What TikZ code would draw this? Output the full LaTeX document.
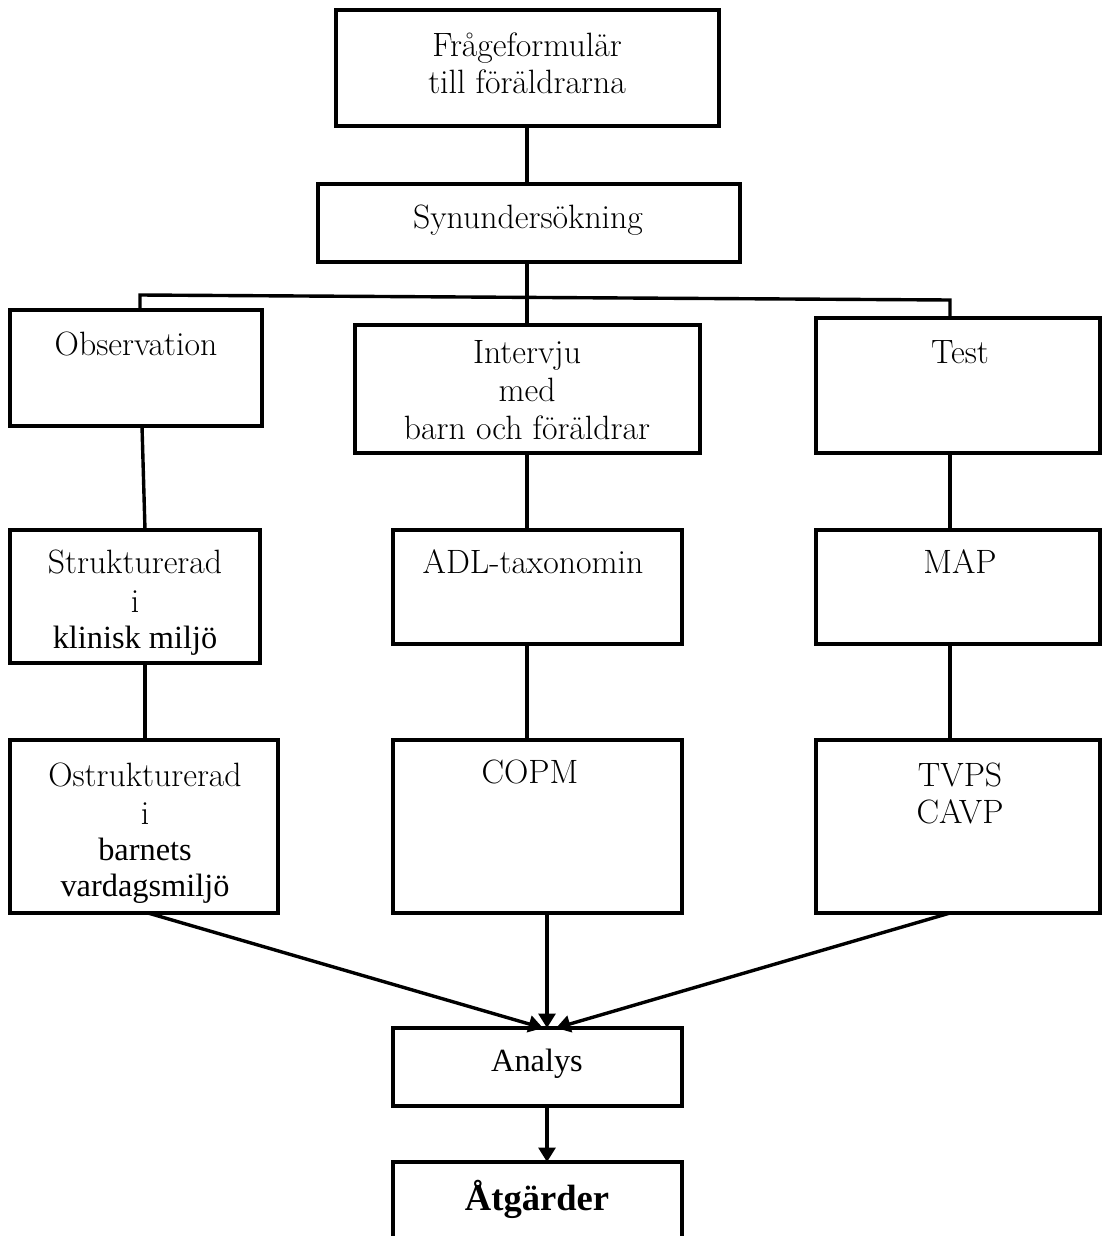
\documentclass[tikz,border=0pt]{standalone}
\usepackage{fontspec}
\usetikzlibrary{arrows.meta,calc}
\newfontfamily\timesf{Liberation Serif}
\newcommand\mkbox[5]{\node[boxs, minimum width={(#4-#2)*0.025cm}, minimum height={(#5-#3)*0.025cm}] (#1) at ({(#2+#4)/2},{(#3+#5)/2}) {};}
\begin{document}
\begin{tikzpicture}[x=0.025cm,y=-0.025cm,
  boxs/.style={draw, line width=0.1cm, inner sep=0pt, outer sep=0pt},
  lm/.style={anchor=base, inner sep=0pt, font=\fontsize{24}{26}\selectfont},
  tm/.style={anchor=base, inner sep=0pt, font=\timesf\fontsize{23}{26}\selectfont},
  conn/.style={line width=0.085cm},
  arr/.style={line width=0.085cm, -{Triangle[length=0.36cm,width=0.42cm]}}]
\useasboundingbox (0,0) rectangle (1105,1236);
\mkbox{frag}{336}{10}{719}{126}
\mkbox{syn}{318}{184}{740}{262}
\mkbox{obs}{10}{310}{262}{426}
\mkbox{int}{355}{325}{700}{453}
\mkbox{test}{816}{318}{1100}{453}
\mkbox{str}{10}{530}{260}{663}
\mkbox{adl}{393}{530}{682}{644}
\mkbox{map}{816}{530}{1100}{644}
\mkbox{ost}{10}{740}{278}{913}
\mkbox{copm}{393}{740}{682}{913}
\mkbox{tvps}{816}{740}{1100}{913}
\mkbox{ana}{393}{1028}{682}{1106}
\mkbox{atg}{393}{1162}{682}{1250}
% texts
\node[lm] (t1) at (527,56) {Frågeformulär};
\node[lm] (t2) at (527,93) {till föräldrarna};
\node[lm] (t3) at (528,228) {Synundersökning};
\node[lm] (t4) at (136,355) {Observation};
\node[lm] (t5) at (527,363) {Intervju};
\node[lm] (t6) at (527,401) {med};
\node[lm] (t7) at (527,439) {barn och föräldrar};
\node[lm] (t8) at (960,363) {Test};
\node[lm] (t9) at (135,573) {Strukturerad};
\node[lm] (t10) at (135,612) {i};
\node[tm] (t11) at (135,648) {klinisk miljö};
\node[lm] (t12) at (533,573) {ADL-taxonomin};
\node[lm] (t13) at (960,573) {MAP};
\node[lm] (t14) at (145,786) {Ostrukturerad};
\node[lm] (t15) at (145,824) {i};
\node[tm] (t16) at (145,860) {barnets};
\node[tm] (t17) at (145,896) {vardagsmiljö};
\node[lm] (t18) at (530,783) {COPM};
\node[lm] (t19) at (960,786) {TVPS};
\node[lm] (t20) at (960,823) {CAVP};
\node[tm] (t21) at (537,1071) {Analys};
\node[tm, font=\timesf\bfseries\fontsize{26}{28}\selectfont] (t22) at (537,1210) {Åtgärder};
% connectors
\draw[conn] (frag.south -| 527,0) -- (syn.north -| 527,0);
\draw[conn] (syn.south -| 527,0) -- (int.north -| 527,0);
\coordinate (hl) at (140,295);
\coordinate (hr) at (950,300);
\draw[conn] (obs.north -| hl) -- (hl) -- (hr) -- (test.north -| hr);
\draw[conn] (obs.south -| 142,0) -- (str.north -| 145,0);
\draw[conn] (str.south -| 145,0) -- (ost.north -| 145,0);
\draw[conn] (int.south -| 527,0) -- (adl.north -| 527,0);
\draw[conn] (adl.south -| 527,0) -- (copm.north -| 527,0);
\draw[conn] (test.south -| 950,0) -- (map.north -| 950,0);
\draw[conn] (map.south -| 950,0) -- (tvps.north -| 950,0);
\draw[arr] (ost.south -| 148,0) -- (ana.north -| 543,0);
\draw[arr] (copm.south -| 547,0) -- (ana.north -| 547,0);
\draw[arr] (tvps.south -| 950,0) -- (ana.north -| 556,0);
\draw[arr] (ana.south -| 547,0) -- (atg.north -| 547,0);
\end{tikzpicture}
\end{document}
